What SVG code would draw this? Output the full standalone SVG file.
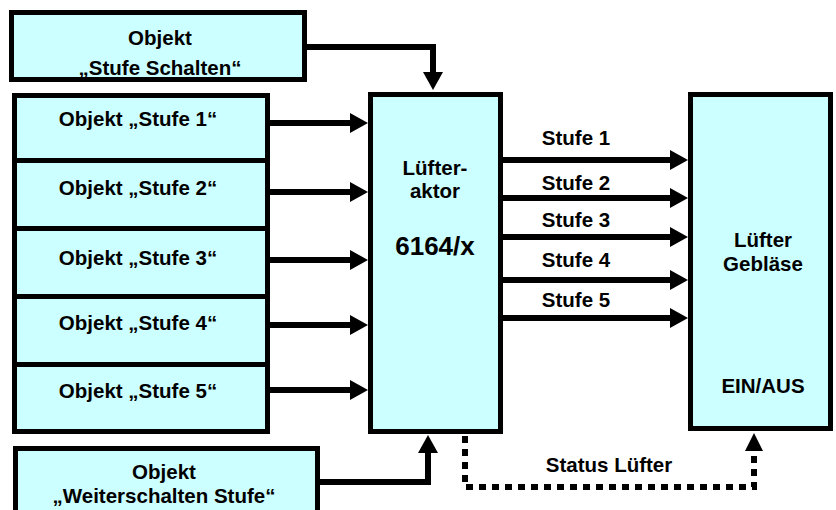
<svg xmlns="http://www.w3.org/2000/svg" width="836" height="510" viewBox="0 0 836 510">
<defs>
<style>
.box{fill:#CCFFFF;stroke:#000;stroke-width:5}
.t{font-family:"Liberation Sans",Arial,sans-serif;font-weight:bold;font-size:20.5px;fill:#000;text-anchor:middle}
.big{font-size:26px}
.c{fill:none;stroke:#000;stroke-width:6}
.d{fill:none;stroke:#000;stroke-width:6;stroke-dasharray:7 6}
</style>
<marker id="ah" markerUnits="userSpaceOnUse" markerWidth="18" markerHeight="20" refX="0" refY="10" orient="auto" overflow="visible">
<path d="M0,0 L18,10 L0,20 Z" fill="#000"/>
</marker>
</defs>
<g id="connectors">
<path class="c" d="M307,47 H433 V72" marker-end="url(#ah)"/>
<path class="c" d="M268,123 H350" marker-end="url(#ah)"/>
<path class="c" d="M268,192 H350" marker-end="url(#ah)"/>
<path class="c" d="M268,260 H350" marker-end="url(#ah)"/>
<path class="c" d="M268,325 H350" marker-end="url(#ah)"/>
<path class="c" d="M268,390 H350" marker-end="url(#ah)"/>
<path class="c" d="M502,160 H670" marker-end="url(#ah)"/>
<path class="c" d="M502,198 H670" marker-end="url(#ah)"/>
<path class="c" d="M502,237 H670" marker-end="url(#ah)"/>
<path class="c" d="M502,280 H670" marker-end="url(#ah)"/>
<path class="c" d="M502,318 H670" marker-end="url(#ah)"/>
<path class="c" d="M320,482 H428 V453" marker-end="url(#ah)"/>
<path class="d" d="M465,436 V487 H754 V452"/>
<path d="M745,451 L754,433 L763,451 Z" fill="#000"/>
<text class="t" x="576" y="145">Stufe 1</text>
<text class="t" x="576" y="190">Stufe 2</text>
<text class="t" x="576" y="227">Stufe 3</text>
<text class="t" x="576" y="267">Stufe 4</text>
<text class="t" x="576" y="307">Stufe 5</text>
<text class="t" x="609" y="472">Status Lüfter</text>
</g>
<g id="n-schalten">
<rect class="box" x="11.5" y="12.5" width="293" height="67"/>
<text class="t" x="160" y="45">Objekt</text>
<text class="t" x="160" y="75">„Stufe Schalten“</text>
</g>
<g id="n-stufe1">
<rect class="box" x="14.5" y="95.5" width="253" height="65"/>
<text class="t" x="138" y="126">Objekt „Stufe 1“</text>
</g>
<g id="n-stufe2">
<rect class="box" x="14.5" y="160.5" width="253" height="68"/>
<text class="t" x="138" y="195">Objekt „Stufe 2“</text>
</g>
<g id="n-stufe3">
<rect class="box" x="14.5" y="228.5" width="253" height="68"/>
<text class="t" x="138" y="265">Objekt „Stufe 3“</text>
</g>
<g id="n-stufe4">
<rect class="box" x="14.5" y="296.5" width="253" height="68"/>
<text class="t" x="138" y="330">Objekt „Stufe 4“</text>
</g>
<g id="n-stufe5">
<rect class="box" x="14.5" y="364.5" width="253" height="67"/>
<text class="t" x="138" y="398">Objekt „Stufe 5“</text>
</g>
<g id="n-aktor">
<rect class="box" x="370.5" y="94.5" width="130" height="337"/>
<text class="t" x="435" y="175">Lüfter-</text>
<text class="t" x="435" y="198">aktor</text>
<text class="t big" x="435" y="255">6164/x</text>
</g>
<g id="n-geblaese">
<rect class="box" x="690.5" y="94.5" width="140" height="334"/>
<text class="t" x="763" y="247">Lüfter</text>
<text class="t" x="763" y="271">Gebläse</text>
<text class="t" x="763" y="393">EIN/AUS</text>
</g>
<g id="n-weiter">
<rect class="box" x="15.5" y="448.5" width="302" height="70"/>
<text class="t" x="164" y="479">Objekt</text>
<text class="t" x="164" y="503">„Weiterschalten Stufe“</text>
</g>
</svg>
